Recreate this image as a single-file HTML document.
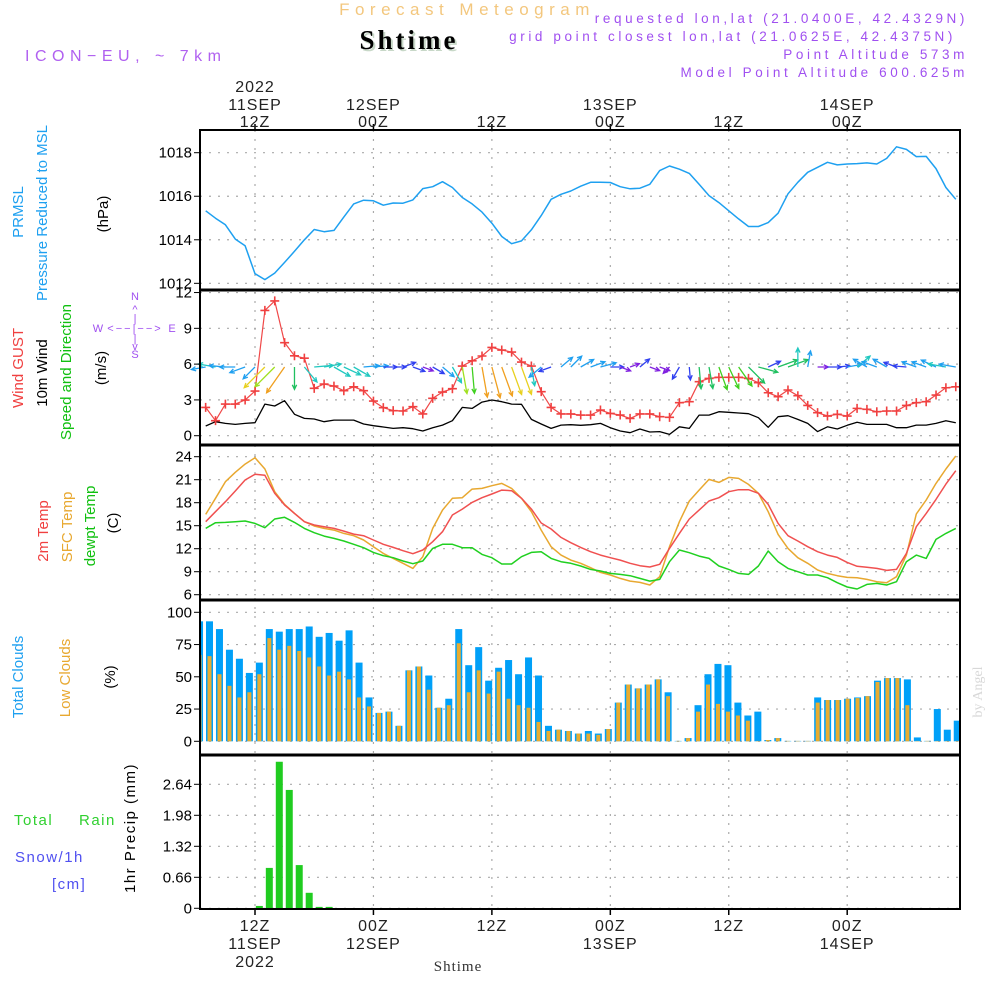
<!DOCTYPE html>
<html><head><meta charset="utf-8"><style>
html,body{margin:0;padding:0;background:#fff;}
svg{display:block;font-family:"Liberation Sans",sans-serif;}
.tk{font-size:15px;fill:#000;text-anchor:end;}
.tl{font-size:16px;fill:#222;text-anchor:middle;letter-spacing:1px;}
.rl{font-size:15px;text-anchor:middle;}
</style></head><body>
<svg id="chart" width="1000" height="1000" viewBox="0 0 1000 1000" xmlns="http://www.w3.org/2000/svg">
<rect x="0" y="0" width="1000" height="1000" fill="#fff"/>
<text x="467" y="15" font-size="17" fill="#f3c77e" text-anchor="middle" letter-spacing="5.5">Forecast Meteogram</text>
<text x="409" y="49" font-size="27" font-weight="bold" font-family="Liberation Serif,serif" fill="#000" text-anchor="middle" letter-spacing="3" style="text-shadow:2px 2px 0 #c8d8c8">Shtime</text>
<text x="25" y="61" font-size="16" fill="#b060f0" letter-spacing="5.5">ICON−EU, ~ 7km</text>
<g font-size="13.5" fill="#a050f0" text-anchor="end" letter-spacing="3.6">
<text x="968" y="23">requested lon,lat (21.0400E, 42.4329N)</text>
<text x="956" y="41">grid point closest lon,lat (21.0625E, 42.4375N)</text>
<text x="968" y="59">Point Altitude 573m</text>
<text x="968" y="77">Model Point Altitude 600.625m</text>
</g>
<g id="grid"></g>
<g id="marks"></g>
<g id="frame" stroke="#000" fill="none">
<rect x="200" y="130" width="760" height="779" stroke-width="2"/>
<line x1="200" y1="290" x2="960" y2="290" stroke-width="3"/>
<line x1="200" y1="445" x2="960" y2="445" stroke-width="3"/>
<line x1="200" y1="600" x2="960" y2="600" stroke-width="3"/>
<line x1="200" y1="755" x2="960" y2="755" stroke-width="3"/>
</g>
<g id="labels"></g>
<g>
<text class="rl" transform="translate(23,212) rotate(-90)" fill="#1ea0f0">PRMSL</text>
<text class="rl" transform="translate(47,213) rotate(-90)" fill="#1ea0f0">Pressure Reduced to MSL</text>
<text class="rl" transform="translate(108,214) rotate(-90)" fill="#000">(hPa)</text>
</g>
<g>
<text class="rl" transform="translate(23,368) rotate(-90)" fill="#f04040">Wind GUST</text>
<text class="rl" transform="translate(47,373) rotate(-90)" fill="#000">10m Wind</text>
<text class="rl" transform="translate(71,372) rotate(-90)" fill="#10c010">Speed and Direction</text>
<text class="rl" transform="translate(106,368) rotate(-90)" fill="#000">(m/s)</text>
</g>
<g font-size="11" fill="#a050f0" text-anchor="middle">
<text x="98" y="332">W</text><text x="135" y="300">N</text><text x="135" y="358">S</text><text x="172" y="332">E</text>
<text x="135" y="332" letter-spacing="2">&lt;−−|−−&gt;</text>
<text x="135" y="313">^</text><text x="135" y="322">|</text><text x="135" y="342">|</text><text x="135" y="350">v</text>
</g>
<g>
<text class="rl" transform="translate(48,531) rotate(-90)" fill="#f04040">2m Temp</text>
<text class="rl" transform="translate(72,527) rotate(-90)" fill="#e8a830">SFC Temp</text>
<text class="rl" transform="translate(95,526) rotate(-90)" fill="#10c010">dewpt Temp</text>
<text class="rl" transform="translate(118,523) rotate(-90)" fill="#000">(C)</text>
</g>
<g>
<text class="rl" transform="translate(23,677) rotate(-90)" fill="#1ea0f0">Total Clouds</text>
<text class="rl" transform="translate(70,678) rotate(-90)" fill="#e8a830">Low Clouds</text>
<text class="rl" transform="translate(115,677) rotate(-90)" fill="#000">(%)</text>
</g>
<g font-size="15" letter-spacing="1.5">
<text x="14" y="825" fill="#30d030">Total</text><text x="79" y="825" fill="#30d030">Rain</text>
<text x="15" y="862" fill="#5050f0">Snow/1h</text>
<text x="52" y="889" fill="#5050f0">[cm]</text>
<text class="rl" transform="translate(135,828) rotate(-90)" fill="#000">1hr Precip (mm)</text>
</g>
<text transform="translate(982,692) rotate(-90)" font-size="14" font-family="Liberation Serif,serif" fill="#d8d8d8" text-anchor="middle">by Angel</text>
<text x="458" y="971" font-size="15" font-family="Liberation Serif,serif" fill="#333" text-anchor="middle" letter-spacing="1">Shtime</text>
</svg>
<script>
const lineStart = 7;
const pressure = [1015.33,1014.99,1014.69,1014.03,1013.73,1012.44,1012.17,1012.47,1012.96,1013.47,1014.0,1014.47,1014.37,1014.43,1015.04,1015.65,1015.82,1015.79,1015.59,1015.69,1015.68,1015.83,1016.35,1016.44,1016.67,1016.40,1015.94,1015.65,1015.27,1014.76,1014.15,1013.82,1013.95,1014.46,1015.11,1015.86,1016.09,1016.24,1016.46,1016.64,1016.64,1016.63,1016.44,1016.34,1016.37,1016.55,1017.18,1017.39,1017.24,1017.05,1016.55,1016.03,1015.71,1015.33,1014.96,1014.61,1014.61,1014.79,1015.22,1016.11,1016.64,1017.10,1017.33,1017.56,1017.44,1017.48,1017.50,1017.53,1017.48,1017.74,1018.27,1018.15,1017.82,1017.83,1017.27,1016.40,1015.86];
const gust = [2.37,1.26,2.65,2.65,2.99,3.74,10.5,11.3,7.8,6.7,6.5,3.97,4.33,4.16,3.77,4.1,3.77,2.9,2.35,2.1,2.07,2.43,1.82,3.13,3.66,3.94,5.84,6.28,6.68,7.4,7.18,7.01,6.17,5.84,3.69,2.37,1.82,1.82,1.73,1.73,2.15,1.87,1.73,1.45,1.82,1.82,1.59,1.54,2.77,2.85,4.53,4.8,4.89,4.89,4.89,4.8,4.44,3.6,3.27,3.83,3.35,2.54,1.93,1.65,1.79,1.65,2.29,2.21,2.01,2.07,2.07,2.54,2.77,2.85,3.41,4.02,4.1];
const wind = [0.81,1.17,1.03,0.95,1.03,1.09,2.65,2.49,2.93,1.79,1.45,1.4,1.17,1.31,1.31,1.31,0.98,0.84,0.73,0.61,0.67,0.59,0.39,0.67,0.89,1.26,2.37,2.29,2.82,2.99,2.85,2.65,2.63,1.37,0.98,0.61,0.89,0.92,0.87,0.92,1.03,0.67,0.39,0.25,0.56,0.31,0.34,0.11,0.75,0.61,1.73,1.73,2.01,1.96,1.9,1.84,1.51,0.7,1.59,1.68,1.37,1.03,0.34,0.75,0.56,0.87,1.12,0.95,0.95,0.95,0.67,0.67,0.89,0.89,1.03,1.26,1.09];
const windDir = [190,170,175,180,200,225,225,225,235,270,310,5,10,330,335,330,5,5,0,0,20,340,340,330,320,300,280,275,280,285,290,290,290,280,220,200,40,45,30,20,15,0,340,20,40,340,340,225,240,275,275,280,290,295,305,315,345,25,20,20,90,80,0,0,5,10,40,150,160,150,160,175,160,160,155,170,170];
const temp2m = [15.52,16.83,18.13,19.52,20.96,21.7,21.57,19.22,17.7,16.61,15.52,15.09,14.87,14.65,14.3,13.91,13.7,13.13,12.57,12.17,11.74,11.35,11.83,12.91,14.22,16.39,17.17,18.04,18.65,19.13,19.65,19.57,18.57,17.17,15.35,14.57,13.48,12.78,12.17,11.61,11.17,10.83,10.52,10.09,9.78,9.61,9.96,12.04,14.0,15.87,17.04,18.22,18.65,19.43,19.7,19.7,19.22,17.78,15.3,13.7,13.0,12.26,11.61,11.17,10.87,10.22,9.7,9.57,9.43,9.17,9.3,11.39,14.87,16.61,18.43,20.43,22.17];
const tempSfc = [16.48,18.57,20.74,21.96,23.04,23.87,22.39,19.43,17.78,16.61,15.52,14.96,14.65,14.43,14.0,13.7,13.13,12.26,11.39,10.74,10.09,9.43,10.96,14.65,17.04,18.57,18.65,19.78,19.87,20.22,20.52,19.87,18.57,16.83,14.43,12.26,11.17,10.52,10.09,9.52,8.91,8.57,8.13,7.78,7.61,7.26,8.35,12.26,15.52,18.22,19.65,21.04,20.65,21.3,21.17,20.39,19.22,16.83,13.87,12.04,10.83,10.09,9.22,8.78,8.48,8.26,8.22,8.0,7.7,7.57,8.35,11.17,16.52,18.35,20.52,22.39,24.09];
const dewpt = [14.65,15.39,15.43,15.52,15.61,15.3,14.74,15.87,16.09,15.43,14.65,14.09,13.65,13.35,13.0,12.57,12.13,11.52,11.09,10.83,10.39,10.04,10.39,12.04,12.57,12.57,12.13,12.13,11.26,10.83,10.0,10.0,10.96,11.52,11.61,10.74,10.3,10.09,9.74,9.3,9.09,8.78,8.65,8.48,8.13,7.78,8.0,10.3,11.83,11.48,11.04,10.74,9.74,9.3,8.78,8.65,9.74,11.7,10.3,9.43,9.0,8.57,8.57,8.22,7.57,7.0,6.74,7.35,7.48,7.26,7.7,10.3,11.17,10.74,13.22,14.0,14.65];
const barStart = 6;
const totalClouds = [93,93,87,71,64,53,61,87,85,87,87,89,81,84,78,86,61,34,22,23,12,55,58,51,26,33,87,59,73,47,57,63,52,65,51,12,9,8,6,8,6,9.5,30,44,41,44,48,38,0.3,2.5,28,52,60,59,30,20,23,1,2.5,0.3,0.3,0.3,34,32,32,33,34,35,47,49,49,48,3,0.3,25,9,16];
const lowClouds = [67,66,52,43,34,38,52,80,71,74,70,65,58,51,54,48,34,27,22,23,12,55,58,40,26,28,76,38,55,37,54,33,28,26,15,8,9,8,6,6,5,9.5,30,44,41,44,48,35,0.3,2.5,23,44,29,23,20,16,0.3,1,2.5,0.3,0.3,0.3,30,32,32,33,33.5,35,46,49,49,28,0.3,0.3,0.3,0.3,0.3];
const precipHours = [12,13,14,15,16,17,18,19];
const precipVals = [0.05,0.86,3.12,2.52,0.92,0.33,0.03,0.03];
const timeTicks = [12,24,36,48,60,72];
const topLabelsL1 = ["2022","","","","",""];
const topLabelsL2 = ["11SEP","12SEP","","13SEP","","14SEP"];
const topLabelsL3 = ["12Z","00Z","12Z","00Z","12Z","00Z"];
const pTicks = [1012,1014,1016,1018];
const wTicks = [0,3,6,9,12];
const tTicks = [6,9,12,15,18,21,24];
const cTicks = [0,25,50,75,100];
const rTicks = ["0","0.66","1.32","1.98","2.64"];

const NS='http://www.w3.org/2000/svg';
const X = t => 255 + (t-12)*9.87;
const XB = t => 209.5 + (t-7)*9.97;
const yP = v => 152.7 + (1018-v)*21.77;
const yW = v => 435.7 - v*11.93;
const yT = v => 456.7 + (24-v)*7.667;
const yC = v => 741.3 - v*1.29;
const yR = v => 908.3 - v*46.97;
function mk(tag, attrs, parent){const e=document.createElementNS(NS,tag);for(const k in attrs)e.setAttribute(k,attrs[k]);parent.appendChild(e);return e;}
const grid=document.getElementById('grid'), marks=document.getElementById('marks'), labels=document.getElementById('labels');

const gs={stroke:'#aaa','stroke-width':1.2,'stroke-dasharray':'2,7'};
timeTicks.forEach(t=>{const l=mk('line',Object.assign({x1:X(t),x2:X(t),y1:130,y2:909},gs),grid);

});
function hgrid(vals,fy,name){vals.forEach(v=>{const y=fy(parseFloat(v));
const l=mk('line',Object.assign({x1:200,x2:960,y1:y,y2:y},gs),grid);


const tk=mk('line',{x1:194,x2:200,y1:y,y2:y,stroke:'#000','stroke-width':1},labels);


const tx=mk('text',{x:192,y:y+5,class:'tk'},labels);tx.textContent=v;

});}
hgrid(pTicks,yP,'pressure');hgrid(wTicks,yW,'wind');hgrid(tTicks,yT,'temperature');hgrid(cTicks,yC,'cloud');hgrid(rTicks,yR,'precip');

timeTicks.forEach((t,i)=>{const x=X(t);
[[124,130],[909,915]].forEach(p=>{const tk=mk('line',{x1:x,x2:x,y1:p[0],y2:p[1],stroke:'#000','stroke-width':1.5},labels);

});
[[topLabelsL1[i],92],[topLabelsL2[i],110],[topLabelsL3[i],127]].forEach(a=>{if(!a[0])return;const e=mk('text',{x:x,y:a[1],class:'tl'},labels);e.textContent=a[0];

});
[[topLabelsL3[i],931],[topLabelsL2[i],949],[topLabelsL1[i],967]].forEach(a=>{if(!a[0])return;const e=mk('text',{x:x,y:a[1],class:'tl'},labels);e.textContent=a[0];

});});

totalClouds.forEach((v,i)=>{const t=barStart+i,x=XB(t);
const b=mk('rect',{x:Math.max(200,x-3.5),y:yC(v),width:Math.min(7,960-(x-3.5),x+3.5-200),height:741.3-yC(v),fill:'#00a0f8'},marks);


const lv=lowClouds[i];const o=mk('rect',{x:Math.max(200,x-2),y:yC(lv),width:Math.max(0,Math.min(4,960-(x-2),x+2-200)),height:741.3-yC(lv),fill:'#e8ac30'},marks);

});

precipHours.forEach((t,i)=>{const x=XB(t);const b=mk('rect',{x:x-3.5,y:yR(precipVals[i]),width:7,height:908.3-yR(precipVals[i]),fill:'#20cc20'},marks);

});

function line(arr,fy,color,name,w){const pts=arr.map((v,i)=>X(lineStart+i).toFixed(1)+','+fy(v).toFixed(1)).join(' ');
const p=mk('polyline',{points:pts,fill:'none',stroke:color,'stroke-width':w||1.5,'stroke-linejoin':'round'},marks);

}
line(pressure,yP,'#1ea0f0','pressure-line');
line(tempSfc,yT,'#e8a830','sfc-temp-line');
line(temp2m,yT,'#f05050','2m-temp-line');
line(dewpt,yT,'#20d020','dewpoint-line');
line(wind,yW,'#000','wind-speed-line',1.3);
line(gust,yW,'#f04848','wind-gust-line',1.2);
gust.forEach((v,i)=>{const x=X(lineStart+i),y=yW(v);
const c=mk('path',{d:`M${x-4.5},${y}H${x+4.5}M${x},${y-4.5}V${y+4.5}`,stroke:'#f04040','stroke-width':1.6,fill:'none'},marks);

});

function wcol(s){if(s<0.5)return'#8020e0';if(s<0.8)return'#3040f0';if(s<1.1)return'#20a0f0';if(s<1.5)return'#20c8c0';if(s<1.9)return'#20c060';if(s<2.3)return'#40d020';if(s<2.5)return'#a0e020';if(s<2.8)return'#e8d020';return'#f0a020';}
windDir.forEach((d,i)=>{const s=wind[i],x0=X(lineStart+i),y0=367;const L=8+s*8;const a=d*Math.PI/180;
const x1=x0+L*Math.cos(a),y1=y0-L*Math.sin(a);const h=5,ba=a+Math.PI;
const hx1=x1+h*Math.cos(ba+0.45),hy1=y1-h*Math.sin(ba+0.45),hx2=x1+h*Math.cos(ba-0.45),hy2=y1-h*Math.sin(ba-0.45);
const p=mk('path',{d:`M${x0},${y0}L${x1},${y1}M${hx1},${hy1}L${x1},${y1}L${hx2},${hy2}`,stroke:wcol(s),'stroke-width':1.3,fill:'none'},marks);

});
</script>
</body></html>
